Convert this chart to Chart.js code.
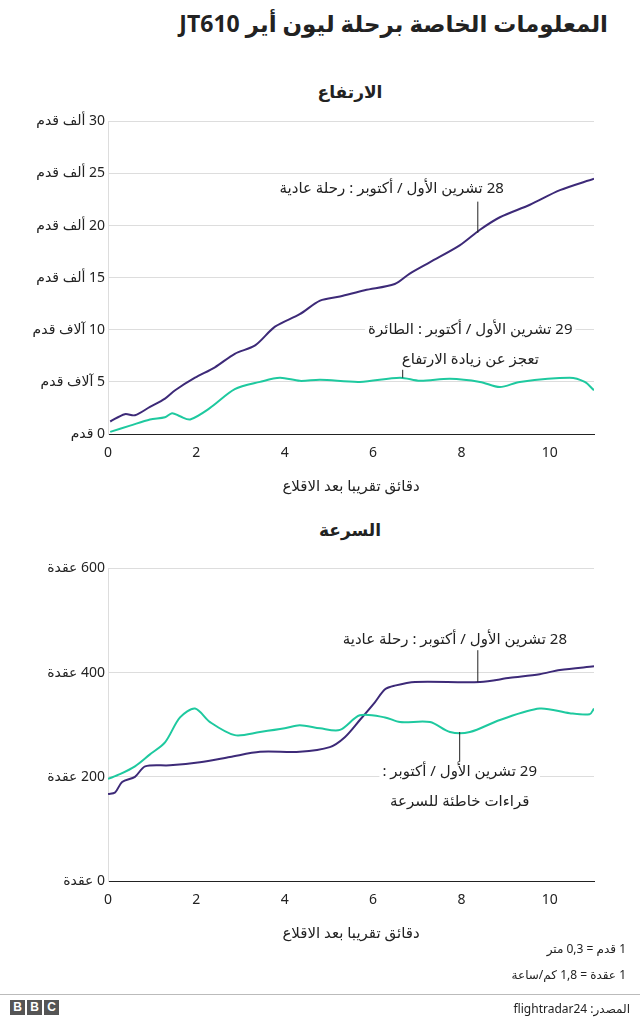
<!DOCTYPE html>
<html><head><meta charset="utf-8">
<script src="https://cdn.jsdelivr.net/npm/chart.js@4"></script>
<style>
body{margin:0;width:640px;height:1022px;position:relative;background:#fff;font-family:"Noto Sans","DejaVu Sans",sans-serif;color:#222}
.t{position:absolute;direction:rtl;white-space:nowrap}
canvas{position:absolute;left:0;direction:rtl}
</style></head><body>
<div class="t" style="right:32px;top:7px;font-size:23px;font-weight:bold">المعلومات الخاصة برحلة ليون أير JT610</div>
<div class="t" style="left:0;width:700px;text-align:center;top:80px;font-size:17px;font-weight:bold;direction:rtl">الارتفاع</div>
<div class="t" style="left:0;width:700px;text-align:center;top:518px;font-size:17px;font-weight:bold">السرعة</div>
<canvas id="c1" width="640" height="390" style="top:110px"></canvas>
<canvas id="c2" width="640" height="390" style="top:557px"></canvas>
<div class="t" style="right:14px;top:940px;font-size:12px">1 قدم = 0,3 متر</div>
<div class="t" style="right:14px;top:966px;font-size:12px">1 عقدة = 1,8 كم/ساعة</div>
<div style="position:absolute;left:0;right:0;top:994px;border-top:1px solid #bbb"></div>
<div style="position:absolute;left:10px;top:1000px;display:flex;gap:2px">
<span style="background:#555;color:#fff;font-weight:bold;font-size:12px;width:15px;height:15px;line-height:15px;text-align:center;font-family:Arial">B</span>
<span style="background:#555;color:#fff;font-weight:bold;font-size:12px;width:15px;height:15px;line-height:15px;text-align:center;font-family:Arial">B</span>
<span style="background:#555;color:#fff;font-weight:bold;font-size:12px;width:15px;height:15px;line-height:15px;text-align:center;font-family:Arial">C</span></div>
<div class="t" style="right:10px;top:1000px;font-size:12px">المصدر: flightradar24</div>
<script>
const altNormalT=[0.05,0.38,0.61,0.95,1.29,1.52,1.97,2.42,2.87,3.33,3.78,4.34,4.8,5.25,5.81,6.49,6.83,7.29,7.96,8.42,8.87,9.55,10.23,11];
const altNormal=[1.2,1.9,1.8,2.6,3.4,4.2,5.4,6.4,7.7,8.5,10.3,11.5,12.8,13.2,13.8,14.4,15.4,16.5,18.1,19.6,20.8,22,23.4,24.5];
const altFaultT=[0.05,0.5,0.95,1.29,1.45,1.63,1.86,2.31,2.87,3.44,3.89,4.34,4.8,5.7,6.61,7.06,7.74,8.42,8.87,9.32,10.45,10.79,11];
const altFault=[0.2,0.8,1.4,1.6,2.0,1.7,1.4,2.5,4.3,5.0,5.4,5.1,5.2,5.0,5.4,5.1,5.3,5.0,4.5,5.0,5.4,5.0,4.2];
const spdNormalT=[0,0.16,0.32,0.61,0.84,1.4,2.08,2.76,3.44,4.34,5.02,5.36,5.7,6.04,6.27,6.49,6.95,8.42,9.1,9.77,10.23,11];
const spdNormal=[167,170,190,200,220,222,228,238,248,248,257,276,309,343,368,375,382,382,390,397,405,412];
const spdFaultT=[0,0.27,0.61,0.95,1.29,1.63,1.97,2.31,2.87,3.44,4.0,4.34,4.8,5.25,5.7,6.27,6.61,7.29,7.74,8.19,8.87,9.77,10.45,10.9,11];
const spdFault=[196,205,220,243,266,314,331,305,280,286,293,299,293,290,318,314,305,305,286,286,309,331,322,320,331];
const xTicks=[0,2,4,6,8,10];
const altTickLabels=['0 قدم','5 آلاف قدم','10 آلاف قدم','15 ألف قدم','20 ألف قدم','25 ألف قدم','30 ألف قدم'];
const spdTickLabels=['0 عقدة','200 عقدة','400 عقدة','600 عقدة'];
const xTitle='دقائق تقريبا بعد الاقلاع';
const PURPLE='#3d2a78',GREEN='#1ec99f';
const F='"Noto Sans","DejaVu Sans",sans-serif';
const pts=(t,v)=>t.map((x,i)=>({x,y:v[i]}));
function annot(list){return{id:'ann',afterDatasetsDraw(ch){const c=ch.ctx,xs=ch.scales.x,ys=ch.scales.y;c.save();c.font='15px '+F;c.textAlign='center';c.textBaseline='middle';c.direction='rtl';
for(const a of list){c.strokeStyle='#222';c.lineWidth=1;c.beginPath();c.moveTo(xs.getPixelForValue(a.lx),ys.getPixelForValue(a.ly1));c.lineTo(xs.getPixelForValue(a.lx),ys.getPixelForValue(a.ly2));c.stroke();
a.lines.forEach((s,i)=>{const x=xs.getPixelForValue(a.tx),y=ys.getPixelForValue(a.ty)+i*30;const w=c.measureText(s).width;c.fillStyle='#fff';c.fillRect(x-w/2-3,y-10,w+6,20);c.fillStyle='#222';c.fillText(s,x,y);});}
c.restore();}}}
function make(id,sets,max,step,labels,ann){
new Chart(document.getElementById(id),{type:'line',data:{datasets:sets.map(s=>({data:s.d,borderColor:s.c,borderWidth:2,pointRadius:0,tension:0.3}))},
options:{responsive:false,animation:false,layout:{padding:{left:8,right:46,top:9,bottom:0}},plugins:{legend:{display:false},tooltip:{enabled:false}},
scales:{x:{type:'linear',min:0,max:11,afterBuildTicks:s=>{s.ticks=xTicks.map(v=>({value:v}))},grid:{display:false},border:{color:'#222'},ticks:{color:'#222',font:{size:14,family:F},maxRotation:0},
title:{display:true,text:xTitle,color:'#222',font:{size:15,family:F}},afterFit:s=>{s.height=66}},
y:{min:0,max:max,ticks:{stepSize:step,color:'#222',font:{size:14,family:F},callback:(v,i)=>labels[i]},grid:{color:'#ddd',drawTicks:false},border:{color:'#ddd'},afterFit:s=>{s.width=100}}}},
plugins:[annot(ann)]});}
make('c1',[{d:pts(altFaultT,altFault),c:GREEN},{d:pts(altNormalT,altNormal),c:PURPLE}],30,5,altTickLabels,[
{lx:8.37,ly1:19.3,ly2:22.3,tx:6.42,ty:23.5,lines:['28 تشرين الأول / أكتوبر : رحلة عادية']},
{lx:6.67,ly1:5.4,ly2:6.3,tx:8.2,ty:10,lines:['29 تشرين الأول / أكتوبر : الطائرة','تعجز عن زيادة الارتفاع']}]);
make('c2',[{d:pts(spdFaultT,spdFault),c:GREEN},{d:pts(spdNormalT,spdNormal),c:PURPLE}],600,200,spdTickLabels,[
{lx:8.37,ly1:382,ly2:443,tx:7.85,ty:463,lines:['28 تشرين الأول / أكتوبر : رحلة عادية']},
{lx:7.96,ly1:286,ly2:228,tx:7.96,ty:210,lines:['29 تشرين الأول / أكتوبر :','قراءات خاطئة للسرعة']}]);
</script></body></html>
